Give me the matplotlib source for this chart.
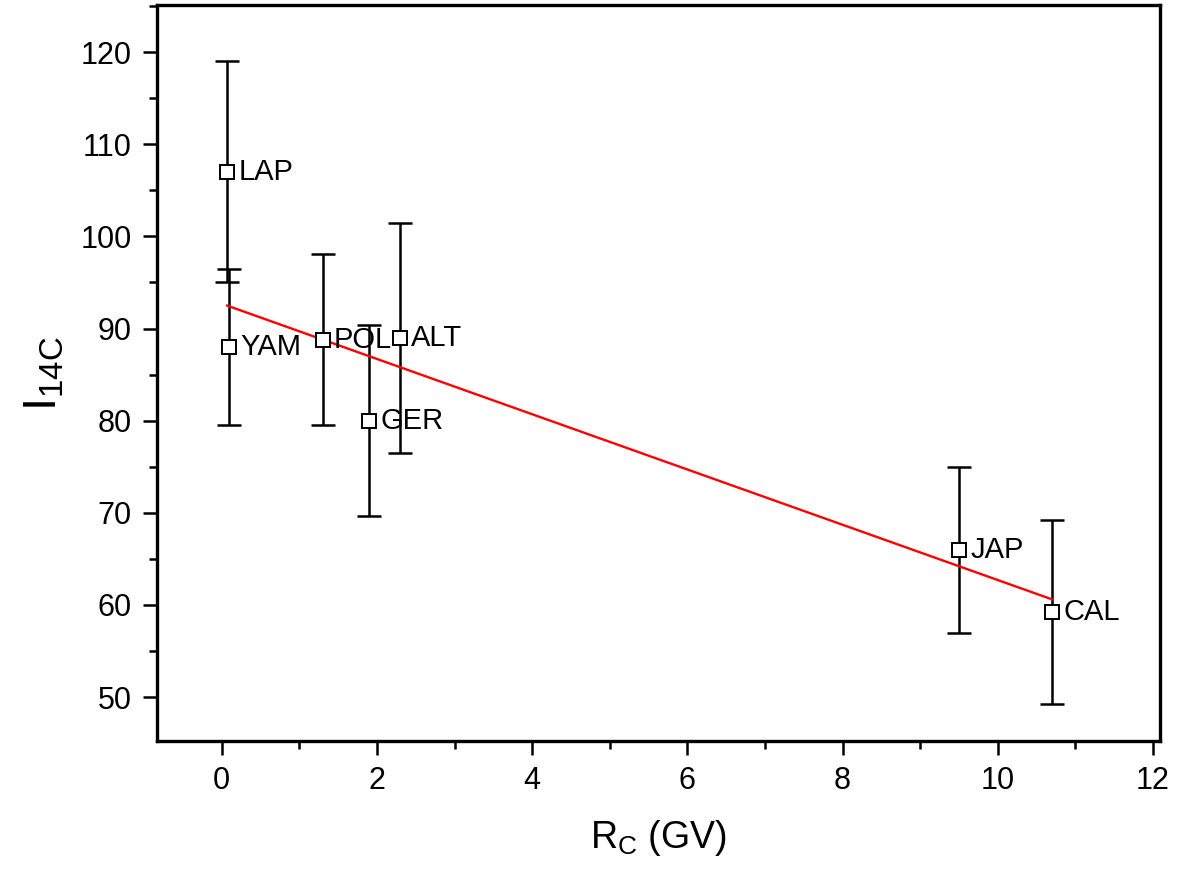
import matplotlib.pyplot as plt
import matplotlib
import numpy as np

# Arial-like look
matplotlib.rcParams['font.family'] = 'Liberation Sans'
matplotlib.rcParams['mathtext.fontset'] = 'custom'
matplotlib.rcParams['mathtext.rm'] = 'Liberation Sans'

# Stations: cutoff rigidity (GV), 14C intensity and its error
sites = ['LAP', 'YAM', 'POL', 'GER', 'ALT', 'JAP', 'CAL']
rc = [0.07, 0.09, 1.30, 1.90, 2.30, 9.50, 10.70]
i14c = [107.0, 88.0, 88.8, 80.0, 89.0, 66.0, 59.2]
err = [12.0, 8.5, 9.3, 10.4, 12.5, 9.0, 10.0]

# linear fit I = a + b * Rc
fit_a = 92.7
fit_b = -3.0

fig = plt.figure(figsize=(11.86, 8.71), dpi=100)
ax = fig.add_axes([0.132, 0.149, 0.846, 0.845])

ax.errorbar(rc, i14c, yerr=err, fmt='none', ecolor='black',
            elinewidth=1.8, capsize=8.5, capthick=1.8, zorder=2)
ax.plot(rc, i14c, 's', markersize=10.5, markerfacecolor='white',
        markeredgecolor='black', markeredgewidth=1.4, zorder=4)

# fitted line over the data range
xf = np.array([min(rc), max(rc)])
ax.plot(xf, fit_a + fit_b * xf, color='red', lw=1.7, zorder=3)

for name, x, y in zip(sites, rc, i14c):
    ax.annotate(name, (x, y), textcoords='offset points', xytext=(8, 0),
                ha='left', va='center', fontsize=21, zorder=5)

ax.set_xticks(np.arange(0, 13, 2))
ax.set_xticks(np.arange(-1, 13, 1), minor=True)
ax.set_yticks(np.arange(50, 121, 10))
ax.set_yticks(np.arange(45, 126, 5), minor=True)
ax.set_xlim(-0.84, 12.09)
ax.set_ylim(45.2, 125.1)

for s in ax.spines.values():
    s.set_linewidth(2.4)
ax.tick_params(which='major', direction='out', length=10, width=1.8,
               labelsize=22, pad=8)
ax.tick_params(which='minor', direction='out', length=6, width=1.8)
ax.tick_params(top=False, right=False, which='both')

ax.set_xlabel(r'$\mathregular{R_C}$ (GV)', fontsize=27, labelpad=16)
ax.set_ylabel(r'$\mathregular{I_{14C}}$', fontsize=34, labelpad=10)

fig.savefig('out.png', dpi=100)
